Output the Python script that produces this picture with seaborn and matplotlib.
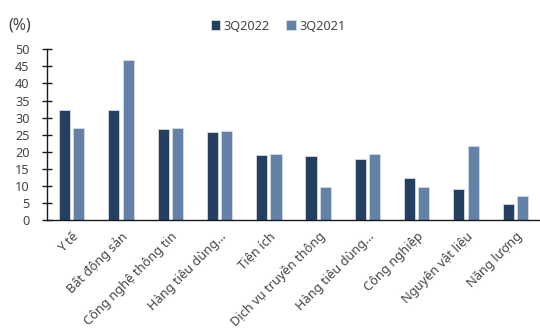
import matplotlib
matplotlib.use("Agg")
import matplotlib.pyplot as plt
import seaborn as sns
import pandas as pd

categories = ["Y tế", "Bất động sản", "Công nghệ thông tin", "Hàng tiêu dùng thiết yếu",
              "Tiện ích", "Dịch vụ truyền thông", "Hàng tiêu dùng không thiết yếu",
              "Công nghiệp", "Nguyên vật liệu", "Năng lượng"]
tick_labels = ["Y tế", "Bất động sản", "Công nghệ thông tin", "Hàng tiêu dùng…",
               "Tiện ích", "Dịch vụ truyền thông", "Hàng tiêu dùng…",
               "Công nghiệp", "Nguyên vật liệu", "Năng lượng"]
v_2022 = [32.2, 32.1, 26.8, 25.7, 19.1, 18.7, 18.0, 12.3, 9.0, 4.6]
v_2021 = [27.0, 46.8, 26.9, 26.2, 19.3, 9.6, 19.2, 9.6, 21.8, 7.0]
series = ["3Q2022", "3Q2021"]

df = pd.DataFrame({
    "cat": categories * 2,
    "val": v_2022 + v_2021,
    "series": [series[0]] * len(categories) + [series[1]] * len(categories),
})

sns.set_theme(style="white")
plt.rcParams["font.family"] = ["Noto Sans", "DejaVu Sans"]
text_c = "#444444"
fs = 9.2

fig = plt.figure(figsize=(5.4, 3.34), dpi=100)
ax = fig.add_axes([47/540, 1-220/334, 493/540, (220-49.3)/334])

sns.barplot(data=df, x="cat", y="val", hue="series", order=categories,
            hue_order=series, palette=["#243f60", "#6482a8"], saturation=1,
            width=0.58, gap=0.22, edgecolor="#d5dbe3", linewidth=0.6, ax=ax, legend=True)

ax.set_xlim(-0.5, len(categories) - 0.5)
ax.set_ylim(0, 50)
ax.set_yticks(range(0, 51, 5))
ax.set_xlabel("")
ax.set_ylabel("")
for s in ["top", "right"]:
    ax.spines[s].set_visible(False)
for s in ["left", "bottom"]:
    ax.spines[s].set_color("#1a1a1a")
    ax.spines[s].set_linewidth(1.0)

ax.set_xticks(range(len(categories)))
ax.set_xticklabels(tick_labels, rotation=45, ha="right", rotation_mode="anchor",
                   fontsize=fs, color=text_c)
ax.tick_params(axis="x", which="major", length=0, pad=7)
ax.set_xticks([i + 0.5 for i in range(len(categories) - 1)], minor=True)
ax.tick_params(axis="x", which="minor", direction="in", length=4, width=1, color="#1a1a1a")
ax.tick_params(axis="y", direction="inout", length=7, width=1, color="#1a1a1a",
               labelsize=fs, labelcolor=text_c, pad=9, left=True)

leg = ax.get_legend()
handles, labels = ax.get_legend_handles_labels()
leg.remove()
fig.legend(handles, labels, loc="center", bbox_to_anchor=(0.515, 0.922), ncol=2,
           frameon=False, fontsize=fs, labelcolor=text_c,
           handlelength=0.75, handleheight=0.75, handletextpad=0.25, columnspacing=1.3,
           borderpad=0)

fig.text(0.015, 0.925, "(%)", fontsize=11.5, color=text_c, va="center", ha="left")

fig.savefig("out.png", dpi=100)
